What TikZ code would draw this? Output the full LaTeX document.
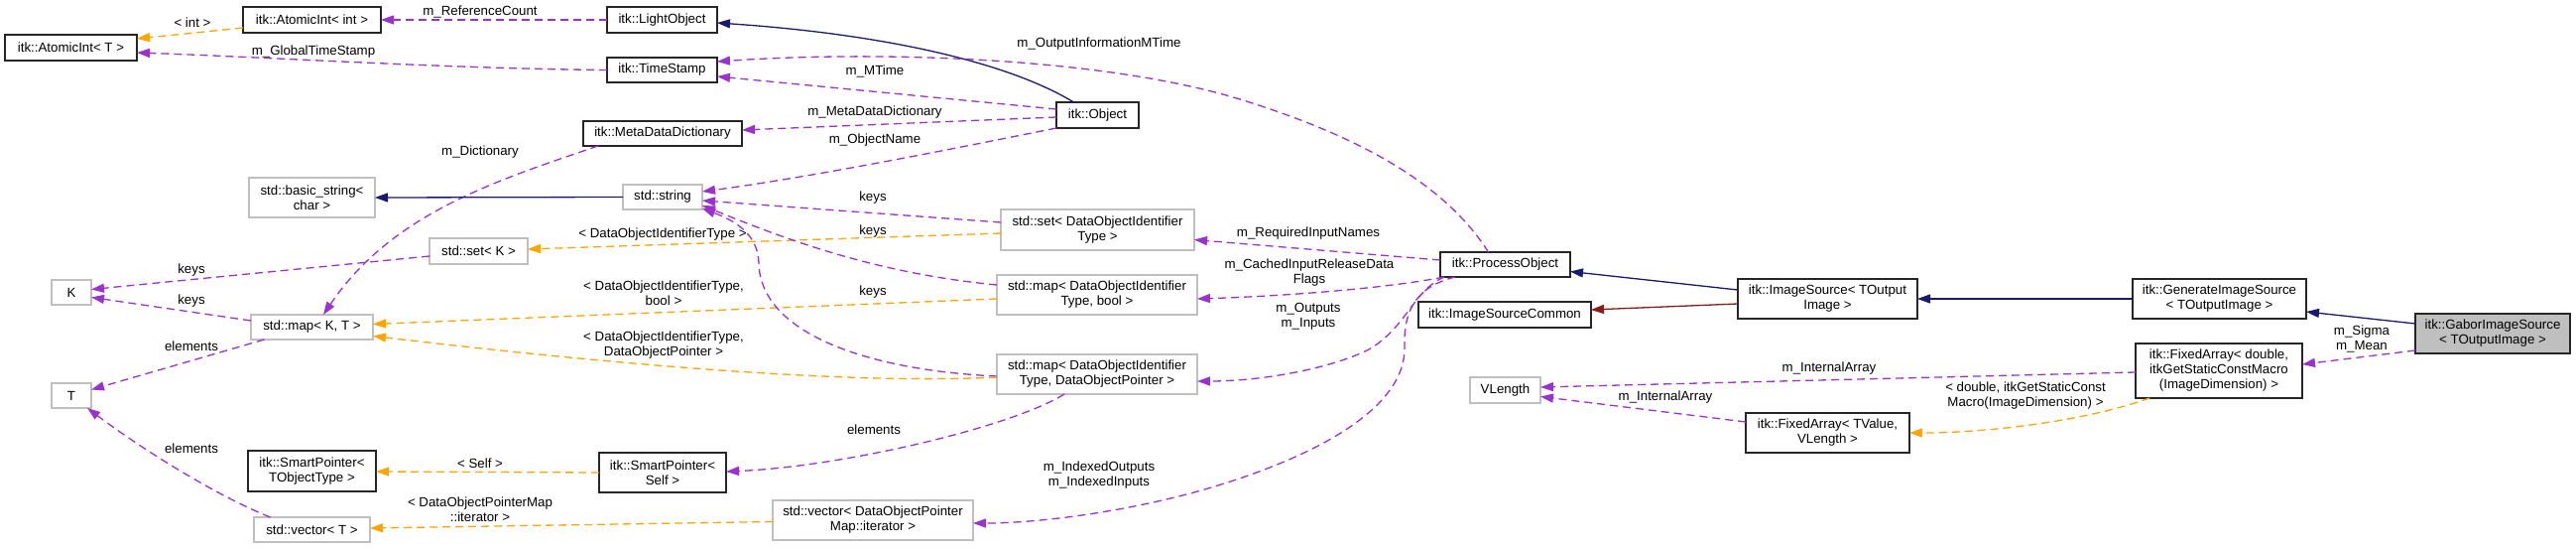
\documentclass[tikz,border=0pt]{standalone}
\usepackage{fontspec}
\setmainfont{Liberation Sans}
\usetikzlibrary{arrows.meta,calc}
\definecolor{navyc}{HTML}{191970}
\definecolor{usec}{HTML}{9A32CD}
\definecolor{tmplc}{HTML}{FFA500}
\definecolor{firec}{HTML}{8B1A1A}
\definecolor{grayb}{HTML}{BFBFBF}
\begin{document}
\begin{tikzpicture}[x=1pt,y=-1pt,
  font=\fontsize{13.3}{15}\selectfont,
  box/.style={draw=black!85, line width=1.3pt, inner sep=0pt, outer sep=0pt, align=center, fill=white},
  gbox/.style={box, draw=grayb},
  tip/.style={-{Triangle[length=13pt,width=9pt]}},
  inh/.style={tip, draw=navyc, line width=1.3pt},
  inhr/.style={tip, draw=firec, line width=1.3pt},
  use/.style={tip, draw=usec, line width=1.3pt, dash pattern=on 8pt off 5pt},
  tmpl/.style={tip, draw=tmplc, line width=1.3pt, dash pattern=on 8pt off 5pt},
  lbl/.style={inner sep=0pt, align=center}]
\useasboundingbox[fill=white] (0,0) rectangle (2597,552);
% nodes
\node[box, minimum width=133pt, minimum height=26pt] (ait) at (71.5,48) {itk::AtomicInt< T >};
\node[box, minimum width=139pt, minimum height=26pt] (aii) at (314.5,20) {itk::AtomicInt< int >};
\node[box, minimum width=111pt, minimum height=26pt] (lo) at (667.5,20) {itk::LightObject};
\node[box, minimum width=111pt, minimum height=25pt] (ts) at (667.5,70.5) {itk::TimeStamp};
\node[box, minimum width=160pt, minimum height=25pt] (mdd) at (668,134.5) {itk::MetaDataDictionary};
\node[box, minimum width=83pt, minimum height=26pt] (obj) at (1106.5,116) {itk::Object};
\node[gbox, minimum width=127pt, minimum height=40pt] (bstr) at (314.5,199) {std::basic\_string<\\char >};
\node[gbox, minimum width=80pt, minimum height=25pt] (str) at (668,198.5) {std::string};
\node[gbox, minimum width=99pt, minimum height=26pt] (setk) at (482.5,253) {std::set< K >};
\node[gbox, minimum width=195pt, minimum height=41pt] (setd) at (1106.5,231.5) {std::set< DataObjectIdentifier\\Type >};
\node[gbox, minimum width=202pt, minimum height=40pt] (mapb) at (1106,297) {std::map< DataObjectIdentifier\\Type, bool >};
\node[gbox, minimum width=202pt, minimum height=40pt] (mapp) at (1106,377) {std::map< DataObjectIdentifier\\Type, DataObjectPointer >};
\node[gbox, minimum width=40pt, minimum height=25pt] (K) at (72,294.5) {K};
\node[gbox, minimum width=123pt, minimum height=25pt] (mapkt) at (314.5,329.5) {std::map< K, T >};
\node[gbox, minimum width=40pt, minimum height=25pt] (T) at (72,398.5) {T};
\node[box, minimum width=129pt, minimum height=41pt] (spt) at (314.5,474.5) {itk::SmartPointer<\\TObjectType >};
\node[box, minimum width=128pt, minimum height=40pt] (sps) at (668,476) {itk::SmartPointer<\\Self >};
\node[gbox, minimum width=117pt, minimum height=25pt] (vect) at (314.5,533.5) {std::vector< T >};
\node[gbox, minimum width=202pt, minimum height=40pt] (vecd) at (880,524) {std::vector< DataObjectPointer\\Map::iterator >};
\node[box, minimum width=131pt, minimum height=25pt] (po) at (1517.5,266.5) {itk::ProcessObject};
\node[box, minimum width=174pt, minimum height=26pt] (isc) at (1517,317) {itk::ImageSourceCommon};
\node[box, minimum width=181pt, minimum height=40pt] (is) at (1842.5,301) {itk::ImageSource< TOutput\\Image >};
\node[gbox, minimum width=71pt, minimum height=26pt] (vl) at (1517.5,393) {VLength};
\node[box, minimum width=165pt, minimum height=40pt] (fat) at (1842.5,436) {itk::FixedArray< TValue,\\VLength >};
\node[box, minimum width=175pt, minimum height=40pt] (gen) at (2237.5,301) {itk::GenerateImageSource\\< TOutputImage >};
\node[box, fill=grayb, minimum width=156pt, minimum height=40pt] (gab) at (2513,336) {itk::GaborImageSource\\< TOutputImage >};
\node[box, minimum width=168pt, minimum height=55pt] (fad) at (2237,373.5) {itk::FixedArray< double,\\itkGetStaticConstMacro\\(ImageDimension) >};
% edges
\draw[tmpl] ($(aii.west)+(0,8)$) -- ($(ait.east)+(0,-9)$);
\draw[use] (lo.west) -- (aii.east);
\draw[use] (ts.west) .. controls (450,69) and (280,58) .. ($(ait.east)+(0,5)$);
\draw[inh] ($(obj.north)+(-24,0)$) .. controls (1020,65) and (900,35) .. ($(lo.east)+(0,3)$);
\draw[use] ($(obj.west)+(0,-6)$) -- ($(ts.east)+(0,6.5)$);
\draw[use] ($(po.north)+(-17,0)$) .. controls (1460,190) and (1380,140) .. (1250,100) .. controls (1120,60) and (900,50) .. ($(ts.east)+(0,-8.5)$);
\draw[use] ($(obj.west)+(0,2)$) -- ($(mdd.east)+(0,-3.5)$);
\draw[use] (obj.south west) .. controls (960,150) and (820,178) .. ($(str.east)+(0,-5.5)$);
\draw[use] ($(mdd.south)+(-65,0)$) .. controls (500,182) and (395,215) .. ($(mapkt.north)+(11.5,0)$);
\draw[inh] (str.west) -- (bstr.east);
\draw[use] ($(setk.west)+(0,5)$) -- ($(K.east)+(0,-3)$);
\draw[use] ($(mapkt.west)+(0,-6.5)$) -- ($(K.east)+(0,5)$);
\draw[use] ($(mapkt.south)+(-48,0)$) -- ($(T.east)+(0,-6)$);
\draw[use] ($(vect.north)+(-42,0)$) .. controls (215,498) and (140,450) .. ($(T.south east)+(-4,0)$);
\draw[tmpl] (sps.west) -- ($(spt.east)+(0,0.5)$);
\draw[tmpl] ($(vecd.west)+(0,1.5)$) -- ($(vect.east)+(0,-1.5)$);
\draw[tmpl] ($(setd.west)+(0,3.5)$) -- ($(setk.east)+(0,-2)$);
\draw[use] ($(setd.west)+(0,-7.5)$) -- ($(str.east)+(0,3.5)$);
\draw[use] ($(mapb.west)+(0,-10)$) .. controls (880,275) and (790,240) .. ($(str.east)+(0,8.5)$);
\draw[tmpl] ($(mapb.west)+(0,4)$) -- ($(mapkt.east)+(0,-3)$);
\draw[use] ($(mapp.west)+(0,2)$) .. controls (860,372) and (766,330) .. (765,265) .. controls (764,235) and (740,222) .. ($(str.east)+(0,11.5)$);
\draw[tmpl] ($(mapp.west)+(0,3)$) .. controls (850,388) and (600,365) .. ($(mapkt.east)+(0,9)$);
\draw[use] ($(mapp.south)+(-33,0)$) .. controls (1020,430) and (850,470) .. ($(sps.east)+(0,-1)$);
\draw[use] ($(po.west)+(0,-4.5)$) -- ($(setd.east)+(0,10)$);
\draw[use] ($(po.south west)+(4,0)$) .. controls (1400,290) and (1300,298) .. ($(mapb.east)+(0,4)$);
\draw[use] ($(po.south west)+(4,0)$) .. controls (1425,292) and (1418,330) .. (1380,352) .. controls (1340,372) and (1270,384) .. ($(mapp.east)+(0,7)$);
\draw[use] ($(po.south west)+(15,0)$) .. controls (1422,290) and (1415,320) .. (1416,350) .. controls (1417,420) and (1300,470) .. (1200,497) .. controls (1120,518) and (1040,527) .. ($(vecd.east)+(0,3)$);
\draw[inh] ($(is.west)+(0,-9)$) -- ($(po.east)+(0,7)$);
\draw[inhr] ($(is.west)+(0,5)$) -- ($(isc.east)+(0,-5)$);
\draw[inh] (gen.west) -- (is.east);
\draw[inh] ($(gab.west)+(0,-10)$) -- ($(gen.east)+(0,13)$);
\draw[use] ($(gab.west)+(0,17)$) -- ($(fad.east)+(0,-6.5)$);
\draw[use] ($(fad.west)+(0,1.5)$) -- ($(vl.east)+(0,-3)$);
\draw[use] ($(fat.west)+(0,-11)$) -- ($(vl.east)+(0,6.5)$);
\draw[tmpl] ($(fad.south)+(-70,0)$) .. controls (2100,425) and (2000,436) .. (fat.east);
% labels
\node[lbl] (l1) at (194,23) {< int >};
\node[lbl] (l2) at (484,12) {m\_ReferenceCount};
\node[lbl] (l3) at (316,52) {m\_GlobalTimeStamp};
\node[lbl] (l4) at (1108,44) {m\_OutputInformationMTime};
\node[lbl] (l5) at (882,72) {m\_MTime};
\node[lbl] (l6) at (882,113) {m\_MetaDataDictionary};
\node[lbl] (l7) at (882,141) {m\_ObjectName};
\node[lbl] (l8) at (484,153) {m\_Dictionary};
\node[lbl] (l9) at (193,272) {keys};
\node[lbl] (l10) at (193,303) {keys};
\node[lbl] (l11) at (193,349) {elements};
\node[lbl] (l12) at (193,452) {elements};
\node[lbl] (l13) at (484,467) {< Self >};
\node[lbl] (l14) at (484,513) {< DataObjectPointerMap\\::iterator >};
\node[lbl] (l15) at (668,236) {< DataObjectIdentifierType >};
\node[lbl] (l16) at (880,199) {keys};
\node[lbl] (l17) at (880,233) {keys};
\node[lbl] (l18) at (669,295) {< DataObjectIdentifierType,\\bool >};
\node[lbl] (l19) at (880,294) {keys};
\node[lbl] (l20) at (669,348) {< DataObjectIdentifierType,\\DataObjectPointer >};
\node[lbl] (l21) at (881,433) {elements};
\node[lbl] (l22) at (1319,235) {m\_RequiredInputNames};
\node[lbl] (l23) at (1320,275) {m\_CachedInputReleaseData\\Flags};
\node[lbl] (l24) at (1319,319) {m\_Outputs\\m\_Inputs};
\node[lbl] (l25) at (1108,479) {m\_IndexedOutputs\\m\_IndexedInputs};
\node[lbl] (l26) at (2381,341) {m\_Sigma\\m\_Mean};
\node[lbl] (l27) at (1844,371) {m\_InternalArray};
\node[lbl] (l28) at (1679,400) {m\_InternalArray};
\node[lbl] (l29) at (2042,399) {< double, itkGetStaticConst\\Macro(ImageDimension) >};
\end{tikzpicture}
\end{document}
